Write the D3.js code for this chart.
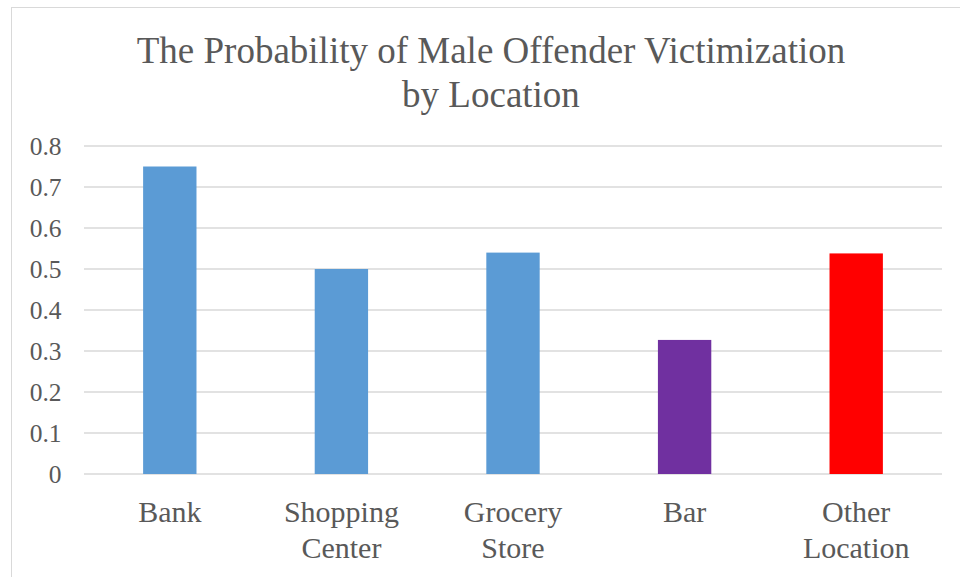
<!DOCTYPE html>
<html><head><meta charset="utf-8">
<script src="https://cdn.jsdelivr.net/npm/d3@7"></script>
<style>html,body{margin:0;padding:0;background:#fff;}</style>
</head><body>
<svg id="chart" width="960" height="577"></svg>
<script>
const categories = [["Bank"], ["Shopping", "Center"], ["Grocery", "Store"], ["Bar"], ["Other", "Location"]];
const values = [0.75, 0.50, 0.54, 0.327, 0.538];
const barColors = ["#5B9BD5", "#5B9BD5", "#5B9BD5", "#7030A0", "#FF0000"];
const yTicks = [0, 0.1, 0.2, 0.3, 0.4, 0.5, 0.6, 0.7, 0.8];
const titleLines = ["The Probability of Male Offender Victimization", "by Location"];

const svg = d3.select("#chart");
const textColor = "#595959";
const fontStyle = size => "font-family:'Liberation Serif';font-size:" + size + "px";

svg.append("rect").attr("x", 11.5).attr("y", 7.5).attr("width", 960).attr("height", 600)
  .attr("fill", "#fff").attr("stroke", "#D9D9D9").attr("stroke-width", 1);

const x = d3.scaleBand().domain(d3.range(categories.length)).range([84, 942]).padding(0);
const y = d3.scaleLinear().domain([0, 0.8]).range([474, 146]);

const gGrid = svg.append("g");
gGrid.selectAll("line").data(yTicks).join("line")
  .attr("x1", 84).attr("x2", 942)
  .attr("y1", d => y(d)).attr("y2", d => y(d))
  .attr("stroke", "#D9D9D9").attr("stroke-width", 1.5);

const gY = svg.append("g");
gY.selectAll("text").data(yTicks).join("text")
  .attr("x", 61.5).attr("y", d => y(d) + 8.5)
  .attr("text-anchor", "end").attr("style", fontStyle(25.5))
  .attr("fill", textColor).text(d => d === 0 ? "0" : d3.format(".1f")(d));

const bw = x.bandwidth() * 0.311;
const gB = svg.append("g");
gB.selectAll("rect").data(values).join("rect")
  .attr("x", (d, i) => x(i) + x.bandwidth() / 2 - bw / 2)
  .attr("width", bw)
  .attr("y", d => y(d)).attr("height", d => y(0) - y(d))
  .attr("fill", (d, i) => barColors[i]);

const gX = svg.append("g");
const xl = gX.selectAll("text").data(categories).join("text")
  .attr("x", (d, i) => x(i) + x.bandwidth() / 2)
  .attr("y", 522)
  .attr("text-anchor", "middle").attr("style", fontStyle(30))
  .attr("fill", textColor);
xl.selectAll("tspan").data(d => d).join("tspan")
  .attr("x", function() { return d3.select(this.parentNode).attr("x"); })
  .attr("dy", (d, i) => i === 0 ? 0 : 36)
  .text(d => d);

const gT = svg.append("g");
gT.selectAll("text").data(titleLines).join("text")
  .attr("x", 491).attr("y", (d, i) => 63 + i * 44)
  .attr("text-anchor", "middle").attr("style", fontStyle(37))
  .attr("fill", textColor).text(d => d);
</script>
</body></html>
